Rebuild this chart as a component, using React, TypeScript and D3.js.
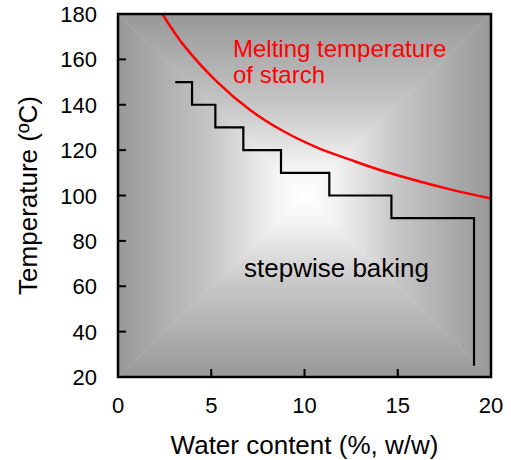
import * as d3 from "d3";

// melting temperature of starch
const meltWater = [2.38, 3.5, 5.3, 7.1, 8.9, 10.72, 12.44, 14.3, 17.87, 20];
const meltTemp = [180, 166.5, 150.2, 137.6, 128.2, 121, 115.8, 110.6, 102.6, 98.7];

// stepwise baking: water content where each step starts, and its temperature
const stepWater = [3.07, 3.97, 5.22, 6.72, 8.74, 11.33, 14.66, 19.09];
const stepTemp = [150, 140, 130, 120, 110, 100, 90, 25];

const xTicks = [0, 5, 10, 15, 20];
const yTicks = [20, 40, 60, 80, 100, 120, 140, 160, 180];

const width = 511;
const height = 460;
const margin = { top: 14, right: 20, bottom: 83, left: 118 };
const innerW = 491 - margin.left;
const innerH = 377 - margin.top;

const font = "'Liberation Sans', Arial, sans-serif";

export default function App() {
  const x = d3.scaleLinear().domain([0, 20]).range([0, innerW]);
  const y = d3.scaleLinear().domain([20, 180]).range([innerH, 0]);

  const meltLine = d3
    .line<number>()
    .x((d) => x(d))
    .y((_, i) => y(meltTemp[i]))
    .curve(d3.curveCatmullRom.alpha(0.5));

  const stepLine = d3
    .line<number>()
    .x((d) => x(d))
    .y((_, i) => y(stepTemp[i]))
    .curve(d3.curveStepAfter);

  const cx = innerW / 2;
  const cy = innerH / 2;
  // rectangular gradient: four triangles, each shading from its edge to the centre
  const stops = [
    { o: 0, c: "#989898" },
    { o: 0.5, c: "#c6c6c6" },
    { o: 0.85, c: "#f4f4f4" },
    { o: 1, c: "#ffffff" },
  ];
  const sides = [
    { id: "gTop", x1: cx, y1: 0, x2: cx, y2: cy, pts: `0,0 ${innerW},0 ${cx},${cy}` },
    { id: "gBot", x1: cx, y1: innerH, x2: cx, y2: cy, pts: `0,${innerH} ${innerW},${innerH} ${cx},${cy}` },
    { id: "gLeft", x1: 0, y1: cy, x2: cx, y2: cy, pts: `0,0 0,${innerH} ${cx},${cy}` },
    { id: "gRight", x1: innerW, y1: cy, x2: cx, y2: cy, pts: `${innerW},0 ${innerW},${innerH} ${cx},${cy}` },
  ];

  return (
    <svg width={width} height={height} style={{ position: "absolute", left: 0, top: 0 }}>
      <defs>
        {sides.map((s) => (
          <linearGradient key={s.id} id={s.id} gradientUnits="userSpaceOnUse" x1={s.x1} y1={s.y1} x2={s.x2} y2={s.y2}>
            {stops.map((st) => (
              <stop key={st.o} offset={st.o} stopColor={st.c} />
            ))}
          </linearGradient>
        ))}
        <clipPath id="plotClip">
          <rect width={innerW} height={innerH} />
        </clipPath>
      </defs>
      <g transform={`translate(${margin.left},${margin.top})`}>
        {sides.map((s) => (
          <polygon key={s.id} points={s.pts} fill={`url(#${s.id})`} stroke={`url(#${s.id})`} strokeWidth={0.5} />
        ))}

        <g clipPath="url(#plotClip)">
          <path d={meltLine(meltWater) ?? ""} fill="none" stroke="#ff0000" strokeWidth={2.5} />
        </g>
        <path d={stepLine(stepWater) ?? ""} fill="none" stroke="#000" strokeWidth={2.2} />

        <text x={115} y={42.5} fill="#ff0000" fontFamily={font} fontSize={24}>
          Melting temperature
        </text>
        <text x={115} y={69} fill="#ff0000" fontFamily={font} fontSize={24}>
          of starch
        </text>
        <text x={126} y={263} fill="#000" fontFamily={font} fontSize={26}>
          stepwise baking
        </text>

        {/* ticks point inward */}
        {yTicks.map((t) => (
          <line key={t} x1={0} x2={8} y1={y(t)} y2={y(t)} stroke="#000" strokeWidth={2} />
        ))}
        {xTicks.map((t) => (
          <line key={t} x1={x(t)} x2={x(t)} y1={innerH} y2={innerH - 8} stroke="#000" strokeWidth={2} />
        ))}
        <rect width={innerW} height={innerH} fill="none" stroke="#000" strokeWidth={2.5} />

        {yTicks.map((t) => (
          <text key={t} x={-21} y={y(t) + 8} textAnchor="end" fontFamily={font} fontSize={22} fill="#000">
            {t}
          </text>
        ))}
        {xTicks.map((t) => (
          <text key={t} x={x(t)} y={innerH + 36} textAnchor="middle" fontFamily={font} fontSize={22} fill="#000">
            {t}
          </text>
        ))}

        <text x={innerW / 2} y={innerH + 77} textAnchor="middle" fontFamily={font} fontSize={26} fill="#000">
          Water content (%, w/w)
        </text>
        <text
          transform={`translate(${-81},${innerH / 2}) rotate(-90)`}
          textAnchor="middle"
          fontFamily={font}
          fontSize={26}
          fill="#000"
        >
          Temperature (ºC)
        </text>
      </g>
    </svg>
  );
}
